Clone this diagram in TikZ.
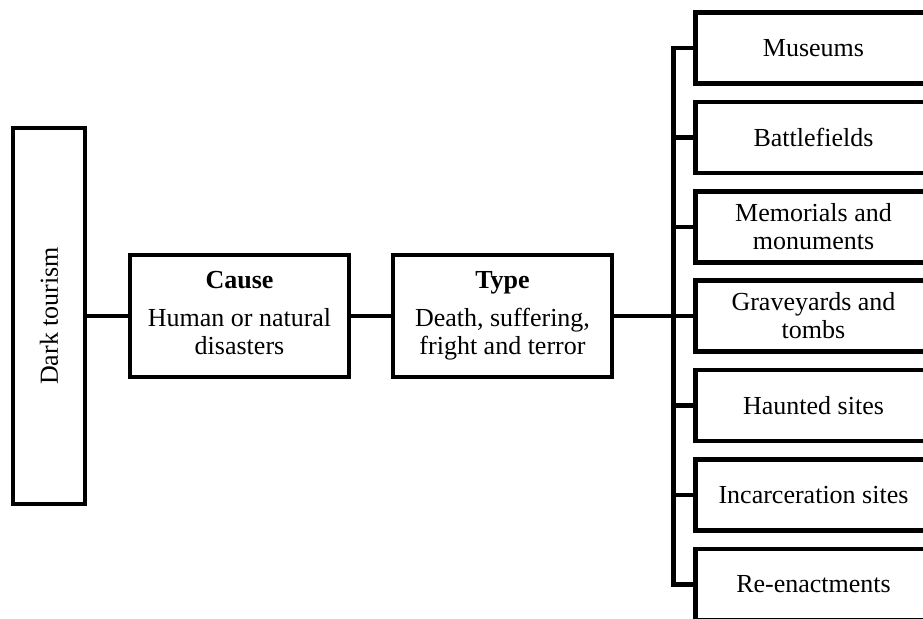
\documentclass[tikz,border=0pt]{standalone}
\usepackage{fontspec}
\setmainfont{Liberation Serif}

\begin{document}
\begin{tikzpicture}[x=0.5pt,y=-0.5pt,
        box/.style={draw, line width=2.4pt, align=center, inner sep=0pt,
            font=\fontsize{13}{14}\selectfont},
        stage/.style={box, minimum width=109.5pt, minimum height=61pt},
        site/.style={box, minimum width=118pt, minimum height=35.5pt},
        link/.style={line width=2.4pt}]
    \useasboundingbox (0,0) rectangle (923,619);
    \clip (0,0) rectangle (923,619);

    \node[box, minimum width=36pt, minimum height=188pt] (dark) at (49,316) {\rotatebox{90}{Dark tourism}};
    \node[stage] (cause) at (239.5,316) {\strut\textbf{Cause}\\[4.75pt]Human or natural\\disasters\strut};
    \node[stage] (type) at (502.5,316) {\strut\textbf{Type}\\[4.75pt]Death, suffering,\\fright and terror\strut};

    % the seven kinds of sites
    \node[site] (museums) at (813.5,48) {Museums};
    \node[site] (battle) at (813.5,137.5) {Battlefields};
    \node[site] (memorials) at (813.5,227) {Memorials and\\monuments};
    \node[site] (graves) at (813.5,316) {Graveyards and\\tombs};
    \node[site] (haunted) at (813.5,405.5) {Haunted sites};
    \node[site] (prisons) at (813.5,495) {Incarceration sites};
    \node[site] (reenact) at (813.5,584.5) {Re-enactments};

    \draw[link] (dark.east) -- (cause.west);
    \draw[link] (cause.east) -- (type.west);
    \draw[link] (type.east) -- (graves.west);

    % bus on the right
    \coordinate (bus) at (673.5,316);
    \draw[link] (museums.west) -| (bus) |- (reenact.west);
    \draw[link] (battle.west) -- (battle.west -| bus);
    \draw[link] (memorials.west) -- (memorials.west -| bus);
    \draw[link] (haunted.west) -- (haunted.west -| bus);
    \draw[link] (prisons.west) -- (prisons.west -| bus);
\end{tikzpicture}
\end{document}
